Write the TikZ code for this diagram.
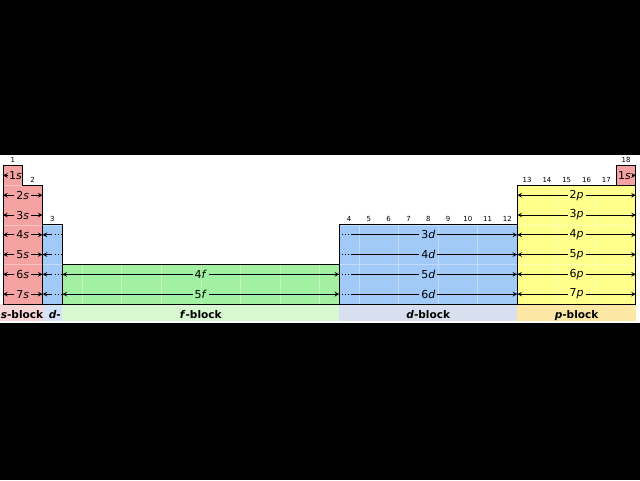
\documentclass[tikz,border=0pt]{standalone}
\usepackage{fontspec}
\setmainfont{DejaVu Sans}
\usetikzlibrary{arrows}

\definecolor{sred}{RGB}{244,162,162}
\definecolor{dblue}{RGB}{162,202,248}
\definecolor{fgreen}{RGB}{162,240,162}
\definecolor{pyellow}{RGB}{255,255,140}
\definecolor{sband}{RGB}{248,214,214}
\definecolor{dband}{RGB}{214,226,246}
\definecolor{fband}{RGB}{216,248,210}
\definecolor{dbandb}{RGB}{216,224,240}
\definecolor{pband}{RGB}{252,232,164}

\tikzstyle{block} = [draw=black, line width=0.7pt]
\tikzstyle{cellgrid} = [white, opacity=0.35, line width=0.4pt]
\tikzstyle{orb} = [
    inner sep=1.2pt,
    font=\fontsize{7.9}{9}\selectfont
]
\tikzstyle{group} = [inner sep=0pt, font=\fontsize{5}{6}\selectfont]
\tikzstyle{blocklabel} = [
    anchor=base,
    inner sep=0pt,
    font=\fontsize{7.6}{9}\selectfont\bfseries
]
\tikzstyle{arrow} = [line width=0.5pt, ->, >=stealth]
\tikzstyle{trail} = [line width=0.7pt, dash pattern=on 0.6pt off 1.6pt]

\begin{document}
\begin{tikzpicture}[x=0.5cm, y=0.5cm]
    % frame
    \useasboundingbox (-0.152,-8.898) rectangle (32.205,15.37);
    \fill[black] (-0.152,-8.898) rectangle (32.205,15.37);
    \fill[white] (-0.152,-0.95) rectangle (32.205,7.53);

    % bands under the table
    \fill[sband] (-0.152,-0.87) rectangle (2,0);
    \fill[dband] (2,-0.87) rectangle (3,0);
    \fill[fband] (3,-0.87) rectangle (17,0);
    \fill[dbandb] (17,-0.87) rectangle (26,0);
    \fill[pband] (26,-0.87) rectangle (32,0);

    % blocks
    \fill[sred] (0,0) -- (0,7) -- (1,7) -- (1,6) -- (2,6) -- (2,0) -- cycle;
    \fill[sred] (31,6) rectangle (32,7);
    \fill[dblue] (2,0) rectangle (3,4);
    \fill[fgreen] (3,0) rectangle (17,2);
    \fill[dblue] (17,0) rectangle (26,4);
    \fill[pyellow] (26,0) rectangle (32,6);

    \draw[cellgrid] (0,0) grid (1,7);
    \draw[cellgrid] (1,0) grid (2,6);
    \draw[cellgrid] (2,0) grid (3,4);
    \draw[cellgrid] (3,0) grid (17,2);
    \draw[cellgrid] (17,0) grid (26,4);
    \draw[cellgrid] (26,0) grid (32,6);

    \draw[block] (0,0) -- (0,7) -- (1,7) -- (1,6) -- (2,6) -- (2,0) -- cycle;
    \draw[block] (31,6) rectangle (32,7);
    \draw[block] (2,0) rectangle (3,4);
    \draw[block] (3,0) rectangle (17,2);
    \draw[block] (17,0) rectangle (26,4);
    \draw[block] (26,0) rectangle (32,6);

    % group numbers
    \node (g1) [group] at (0.5,7.28) {1};
    \node (g2) [group] at (1.5,6.28) {2};
    \node (g3) [group] at (2.5,4.28) {3};
    \foreach \g in {4,...,12}
        \node (g\g) [group] at (\g+13.5,4.28) {\g};
    \foreach \g in {13,...,17}
        \node (g\g) [group] at (\g+13.5,6.28) {\g};
    \node (g18) [group] at (31.5,7.28) {18};

    % period 1
    \coordinate (hl) at (0,6.5);
    \coordinate (hr) at (32,6.5);
    \node (h1) [orb, inner sep=0.5pt] at (0.63,6.5) {1\textit{s}};
    \node (he1) [orb, inner sep=0.5pt] at (31.42,6.5) {1\textit{s}};
    \draw [arrow] (h1) -- (hl);
    \draw [arrow] (he1) -- (hr);

    % s and p rows
    \foreach \n in {2,...,7} {
        \coordinate (sl\n) at (0,7.5-\n);
        \coordinate (sr\n) at (2,7.5-\n);
        \coordinate (pl\n) at (26,7.5-\n);
        \coordinate (pr\n) at (32,7.5-\n);
        \node (s\n) [orb, fill=sred] at (1,7.5-\n) {\n\textit{s}};
        \node (p\n) [orb, fill=pyellow] at (29,7.5-\n) {\n\textit{p}};
        \draw [arrow] (s\n) -- (sl\n);
        \draw [arrow] (s\n) -- (sr\n);
        \draw [arrow] (p\n) -- (pl\n);
        \draw [arrow] (p\n) -- (pr\n);
    }

    % d rows
    \foreach \n/\m in {4/3, 5/4, 6/5, 7/6} {
        \coordinate (dc\n) at (2.45,7.5-\n);
        \coordinate (dl\n) at (17.65,7.5-\n);
        \node (d\n) [orb, fill=dblue] at (21.5,7.5-\n) {\m\textit{d}};
        \draw [arrow] (dc\n) -- (sr\n);
        \draw [trail] (dc\n) -- ++(0.5,0);
        \draw [line width=0.5pt] (d\n) -- (dl\n);
        \draw [trail] (dl\n) -- ++(-0.55,0);
        \draw [arrow] (d\n) -- (pl\n);
    }

    % f rows
    \foreach \n/\m in {6/4, 7/5} {
        \coordinate (fl\n) at (3,7.5-\n);
        \coordinate (fr\n) at (17,7.5-\n);
        \node (f\n) [orb, fill=fgreen] at (10,7.5-\n) {\m\textit{f}};
        \draw [arrow] (f\n) -- (fl\n);
        \draw [arrow] (f\n) -- (fr\n);
    }

    % block names
    \node (sblock) [blocklabel] at (0.96,-0.74) {\textit{s}-block};
    \node (dsplit) [blocklabel] at (2.62,-0.74) {\textit{d}-};
    \node (fblock) [blocklabel] at (10,-0.74) {\textit{f}-block};
    \node (dblock) [blocklabel] at (21.5,-0.74) {\textit{d}-block};
    \node (pblock) [blocklabel] at (29,-0.74) {\textit{p}-block};
\end{tikzpicture}
\end{document}
